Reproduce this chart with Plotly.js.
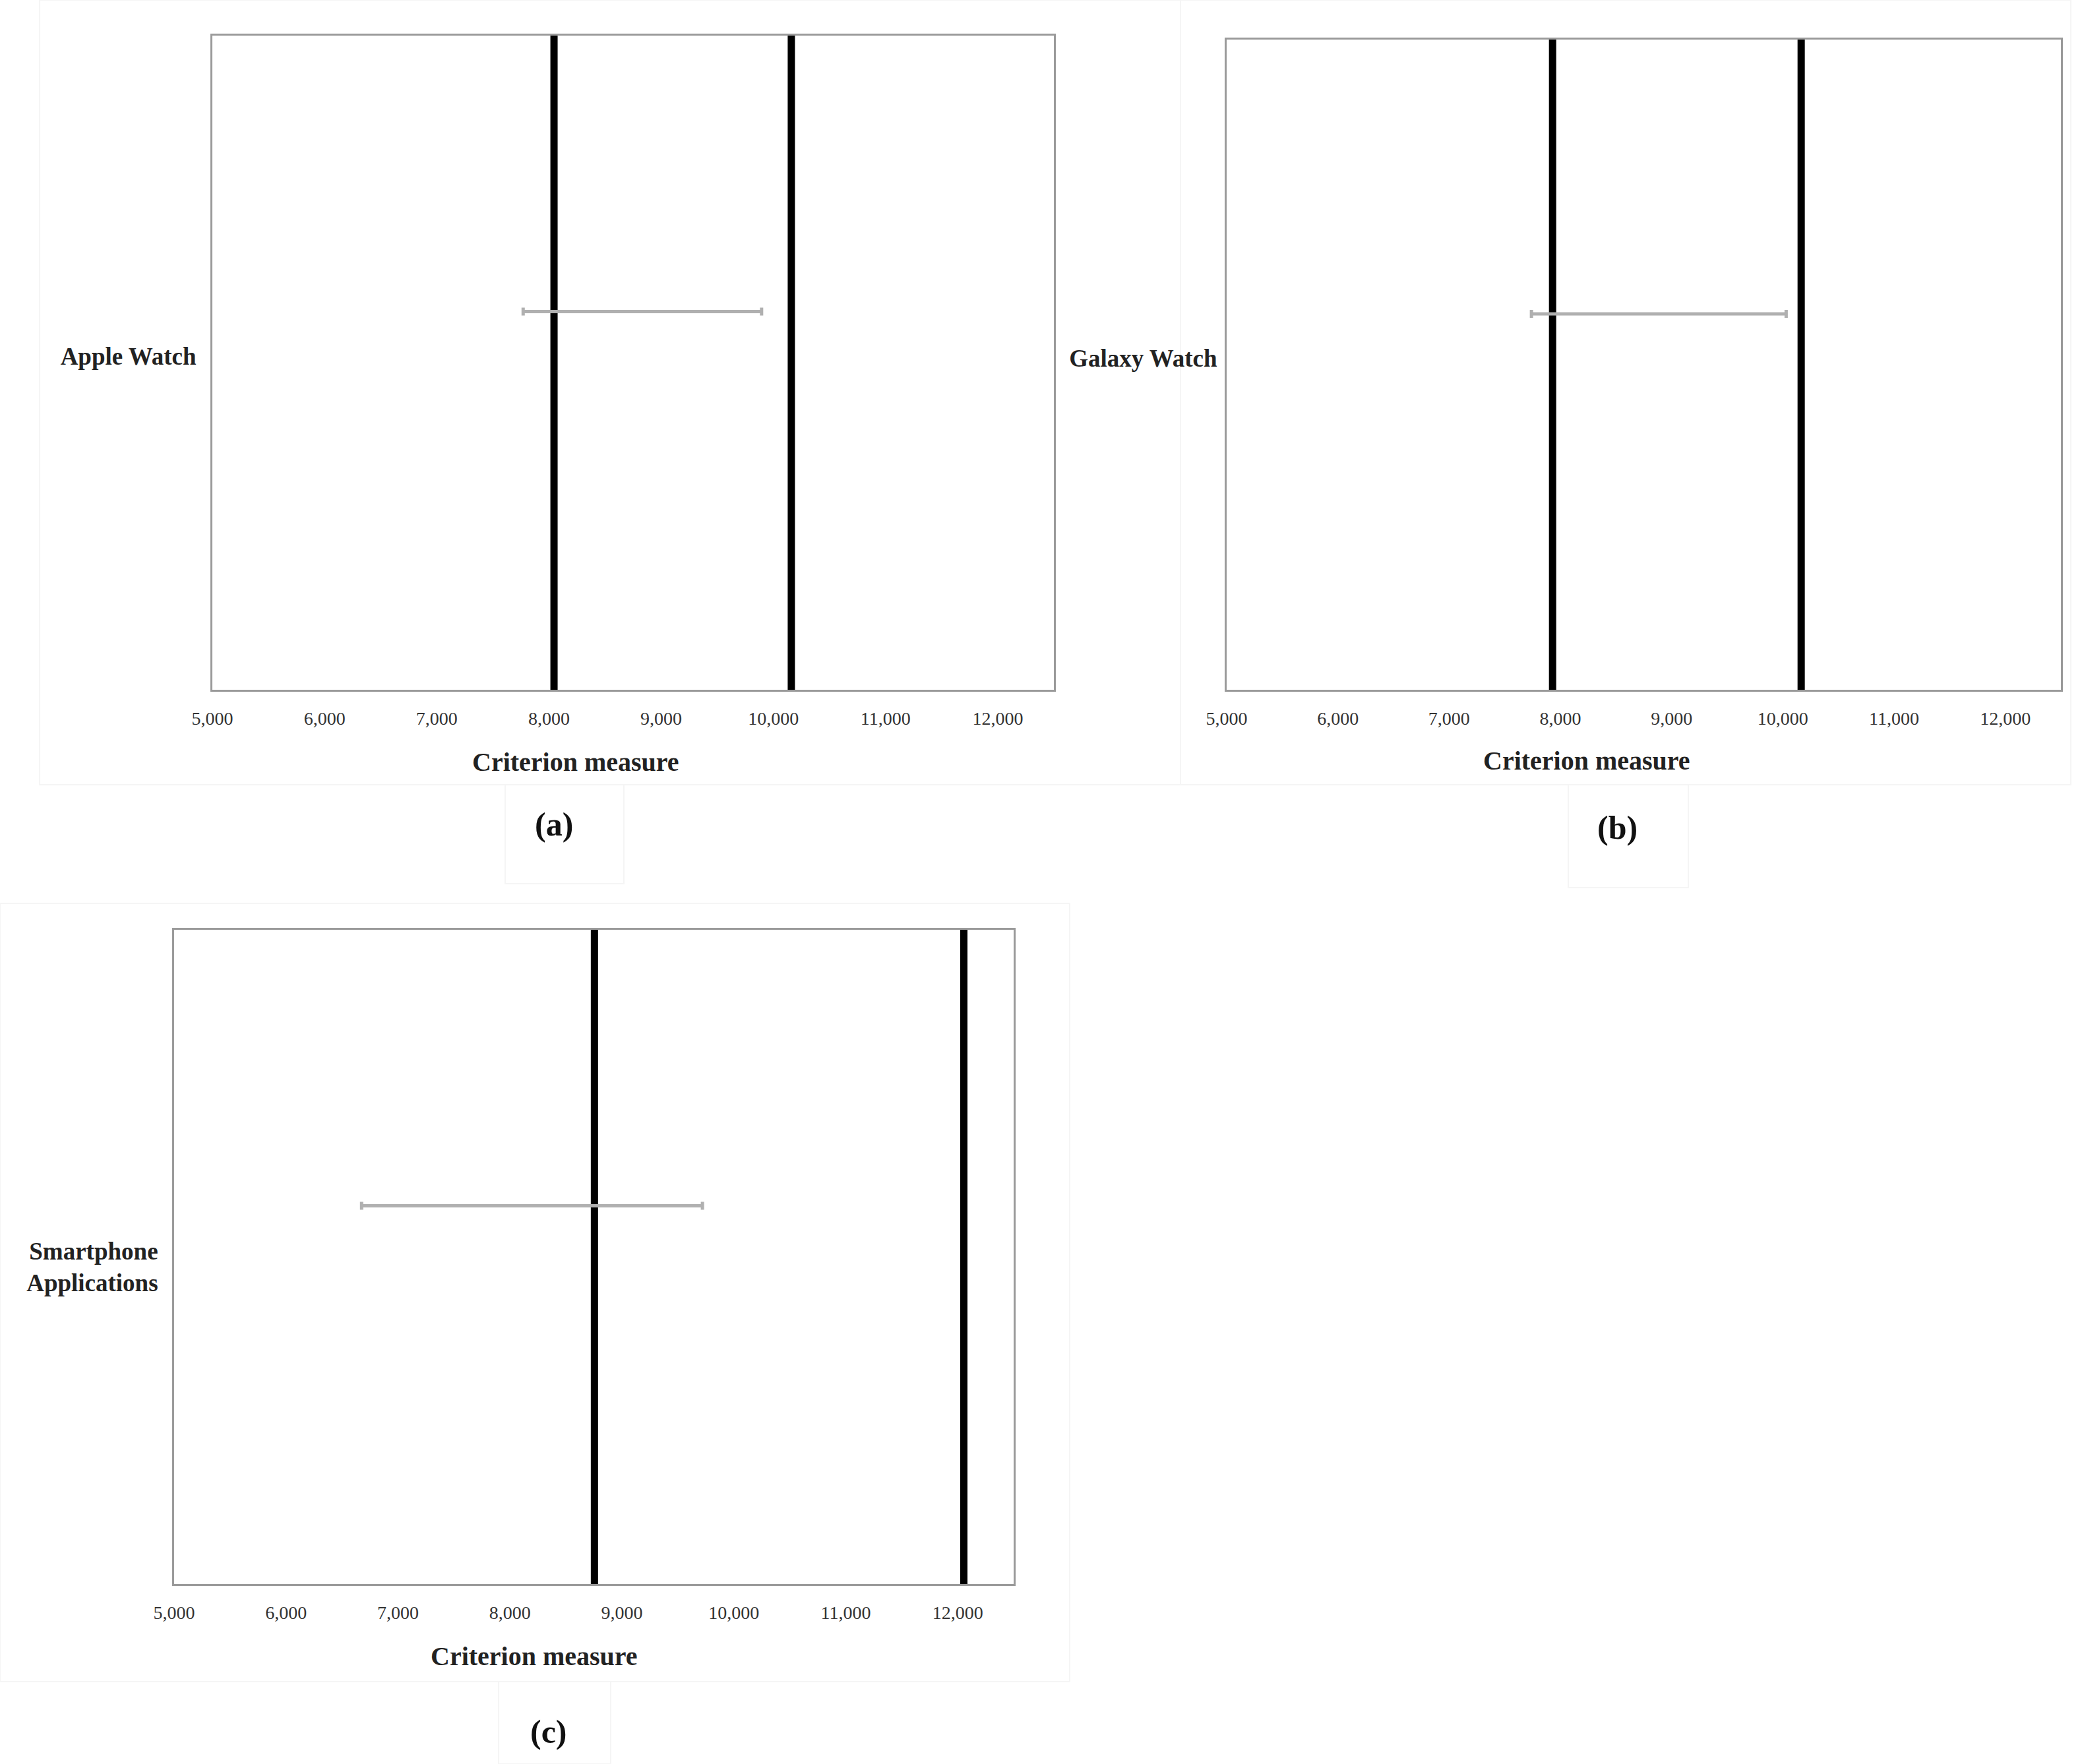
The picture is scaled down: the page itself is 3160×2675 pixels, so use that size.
<!DOCTYPE html>
<html>
<head>
<meta charset="utf-8">
<script src="https://cdn.plot.ly/plotly-3.0.1.min.js"></script>
<style>html,body{margin:0;padding:0;background:#fff;}#chart{width:3160px;height:2675px;}</style>
</head>
<body>
<div id="chart"></div>
<script>
// ---- data ----
const devices = ['Apple Watch', 'Galaxy Watch', 'Smartphone<br>Applications'];
const panelLabels = ['(a)', '(b)', '(c)'];
const lowerLine = [8045, 7930, 8755];     // left thick black line
const upperLine = [10160, 10165, 12055];  // right thick black line
const ciLow = [7770, 7740, 6675];         // grey interval, lower end
const ciHigh = [9895, 10030, 9720];       // grey interval, upper end
const xTicks = [5000, 6000, 7000, 8000, 9000, 10000, 11000, 12000];
const xTitle = 'Criterion measure';

// ---- layout geometry ----
const W = 3160, H = 2675;
const FONT = 'Liberation Serif';
const domains = [
  {x: [322 / W, 1598 / W], y: [1 - 1046 / H, 1 - 54 / H]},
  {x: [1860 / W, 3125 / W], y: [1 - 1046 / H, 1 - 60 / H]},
  {x: [264 / W, 1537 / W], y: [1 - 2402 / H, 1 - 1410 / H]}
];
const labelRowY = [0.51, 0.51, 0.485];
const ciRowY = 0.578;
const titlePos = [[873, 1155], [2406, 1153], [810, 2511]];
const labelPos = [[840, 1250], [2452, 1255], [832, 2626]];

const traces = [];
const layout = {
  width: W, height: H,
  margin: {l: 0, r: 0, t: 0, b: 0},
  paper_bgcolor: '#fff', plot_bgcolor: '#fff',
  showlegend: false,
  annotations: [],
  shapes: []
};

devices.forEach((dev, i) => {
  const sfx = i === 0 ? '' : String(i + 1);
  const xa = 'x' + sfx, ya = 'y' + sfx;
  [lowerLine[i], upperLine[i]].forEach(v => {
    traces.push({
      type: 'scatter', mode: 'lines', xaxis: xa, yaxis: ya,
      x: [v, v], y: [0, 1],
      line: {color: '#000', width: 11}, hoverinfo: 'skip'
    });
  });
  traces.push({
    type: 'scatter', mode: 'markers', xaxis: xa, yaxis: ya,
    x: [ciLow[i]], y: [ciRowY],
    marker: {size: 1, opacity: 0},
    error_x: {type: 'data', symmetric: false, array: [ciHigh[i] - ciLow[i]], arrayminus: [0],
              color: '#b0b0b0', thickness: 5, width: 6},
    hoverinfo: 'skip'
  });

  layout['xaxis' + sfx] = {
    domain: domains[i].x, anchor: ya,
    range: [5000, 12500], tickvals: xTicks, tickformat: ',d',
    ticks: '', showgrid: false, zeroline: false,
    showline: true, mirror: true, linecolor: '#9a9a9a', linewidth: 3,
    tickfont: {family: FONT, size: 28, color: '#333'},
    ticklabelstandoff: 16
  };
  layout['yaxis' + sfx] = {
    domain: domains[i].y, anchor: xa,
    range: [0, 1], tickvals: [labelRowY[i]], ticktext: [dev],
    ticks: '', showgrid: false, zeroline: false,
    showline: true, mirror: true, linecolor: '#9a9a9a', linewidth: 3,
    tickfont: {family: FONT, size: 37, color: '#222', weight: 'bold'},
    ticklabelstandoff: i === 1 ? 4 : 14
  };

  layout.annotations.push({
    xref: 'paper', yref: 'paper', x: titlePos[i][0] / W, y: 1 - titlePos[i][1] / H,
    xanchor: 'center', yanchor: 'middle', showarrow: false,
    text: xTitle, font: {family: FONT, size: 40, color: '#222', weight: 'bold'}
  });
  layout.annotations.push({
    xref: 'paper', yref: 'paper', x: labelPos[i][0] / W, y: 1 - labelPos[i][1] / H,
    xanchor: 'center', yanchor: 'middle', showarrow: false,
    text: panelLabels[i], font: {family: FONT, size: 50, color: '#111', weight: 'bold'}
  });
});

// faint frame remnants around panels (scanned figure borders)
const faint = '#f5f5f5';
function rect(x0, y0, x1, y1) {
  layout.shapes.push({type: 'rect', xref: 'paper', yref: 'paper',
    x0: x0 / W, x1: x1 / W, y0: 1 - y1 / H, y1: 1 - y0 / H,
    line: {color: faint, width: 2}, fillcolor: 'rgba(0,0,0,0)', layer: 'below'});
}
rect(60, 0, 1790, 1190);
rect(766, 1190, 946, 1340);
rect(1790, 0, 3140, 1190);
rect(2378, 1190, 2560, 1346);
rect(0, 1370, 1622, 2550);
rect(756, 2550, 926, 2675);

Plotly.newPlot('chart', traces, layout, {displayModeBar: false, staticPlot: true});
</script>
</body>
</html>
